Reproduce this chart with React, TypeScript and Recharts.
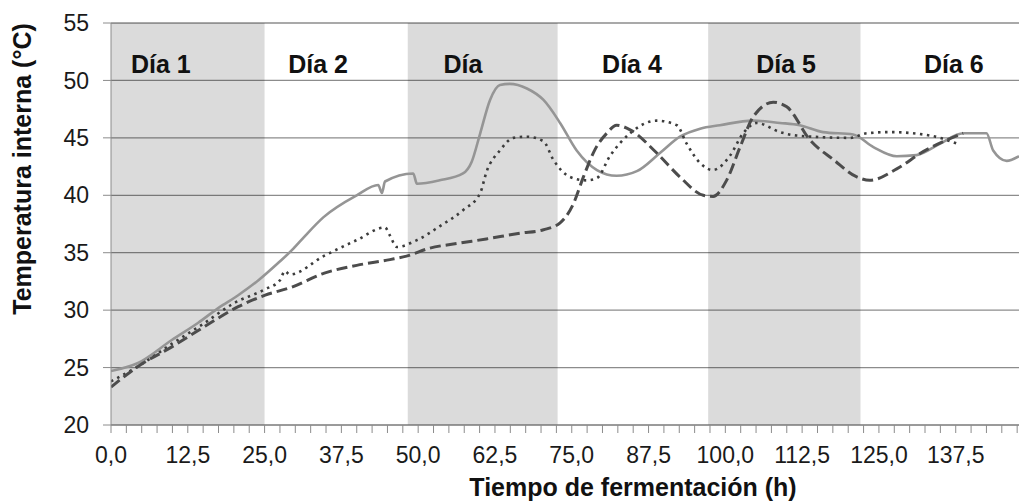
import React from "react";
import {
  LineChart,
  Line,
  XAxis,
  YAxis,
  CartesianGrid,
  ReferenceArea,
  ReferenceDot,
} from "recharts";

// horas de fermentación vs temperatura interna (°C)
const solidHours = [0, 4.4, 9.9, 14.2, 17.5, 20.7, 24, 27.2, 29.4, 31.3, 34.6, 40, 43.5, 44.1, 44.6, 49.2, 49.8, 53.5, 57.3, 58.7, 60.1, 61.7, 63.3, 64.9, 67.7, 70.4, 73.1, 75.8, 79.1, 82.3, 85.6, 89.4, 92.6, 95.9, 99.1, 104.5, 108.9, 112.1, 115.9, 120.8, 124.1, 127.9, 131.1, 135, 138.7, 142.5, 143.6, 145.8, 147.8];
const solidTemps = [24.7, 25.4, 27.4, 28.9, 30.2, 31.3, 32.6, 34.1, 35.2, 36.3, 38.1, 40.0, 40.9, 40.2, 41.2, 41.9, 41.0, 41.3, 41.9, 42.9, 45.4, 48.3, 49.6, 49.7, 49.3, 48.3, 46.3, 43.9, 42.2, 41.7, 42.1, 43.7, 45.1, 45.8, 46.1, 46.5, 46.3, 46.1, 45.5, 45.3, 44.2, 43.4, 43.5, 44.5, 45.4, 45.4, 43.9, 43.0, 43.4];

const dottedHours = [0, 5, 10, 15, 20, 25, 27.5, 28.3, 29.1, 34.6, 40, 44.6, 45.4, 46.5, 49.8, 53.5, 57.3, 60.1, 61.1, 63.3, 65.5, 67.7, 70.4, 72, 74.7, 77.4, 79.1, 81.2, 84.5, 88.8, 92.1, 93.7, 95.9, 98, 100.7, 102.9, 105.1, 108.9, 111.6, 120.3, 123, 126.8, 133.3, 138.2];
const dottedTemps = [23.8, 25.3, 27.1, 28.8, 30.6, 31.8, 32.6, 33.4, 33.1, 34.7, 36.1, 37.2, 36.5, 35.5, 36.1, 37.3, 38.7, 40.2, 42.0, 43.9, 45.0, 45.1, 44.7, 43.1, 41.6, 41.3, 41.5, 43.4, 45.4, 46.5, 46.1, 44.5, 42.8, 42.2, 43.4, 45.4, 46.3, 45.5, 45.2, 45.0, 45.4, 45.5, 45.2, 44.4];

const dashedHours = [0, 4.4, 9.9, 15.3, 20.7, 25.1, 29.4, 34.6, 40, 45.4, 48.1, 51.9, 56.3, 61.1, 66.6, 70.4, 73.1, 75.3, 76.9, 78.8, 80.7, 82.3, 84.5, 88.8, 92.6, 96.4, 98, 100.2, 102.4, 104.5, 107.8, 110, 113.8, 117.6, 121.4, 123.5, 127.9, 132.2, 136, 138.7];
const dashedTemps = [23.3, 25.1, 26.8, 28.6, 30.3, 31.3, 32.0, 33.2, 33.9, 34.4, 34.7, 35.4, 35.8, 36.2, 36.7, 37.0, 37.6, 39.3, 41.6, 44.0, 45.4, 46.1, 45.7, 43.7, 41.6, 40.0, 39.9, 41.3, 44.2, 46.8, 48.1, 47.7, 44.8, 43.1, 41.6, 41.3, 42.3, 43.8, 44.8, 45.4];

// bandas grises (días impares)
const bandStarts = [0, 48.3, 97.2];
const bandEnds = [25, 72.7, 122];

const dayNames = ["Día 1", "Día 2", "Día", "Día 4", "Día 5", "Día 6"];
const dayHours = [8.1, 33.7, 57.3, 84.8, 109.9, 137.2];
const dayLabelTemp = 51.4;

const yTicks = [20, 25, 30, 35, 40, 45, 50, 55];
const xTicks = Array.from({ length: 60 }, (_, i) => i * 2.5);

const toPoints = (hs: number[], ts: number[]) => hs.map((h, i) => ({ h, t: ts[i] }));

const FONT = '"Liberation Sans", Arial, sans-serif';

const fmtX = (v: number) => (v % 12.5 === 0 ? v.toFixed(1).replace(".", ",") : "");

export default function App() {
  return (
    <div style={{ width: 1019, height: 502, background: "#fff" }}>
      <style>{"body{margin:0}"}</style>
      <LineChart
        width={1019}
        height={502}
        margin={{ top: 23, right: 0, bottom: 0, left: 0 }}
        style={{ fontFamily: FONT }}
      >
        {bandStarts.map((s, i) => (
          <ReferenceArea
            key={"b" + i}
            x1={s}
            x2={bandEnds[i]}
            y1={20}
            y2={55}
            fill="#000"
            fillOpacity={0.14}
            stroke="none"
          />
        ))}
        <CartesianGrid vertical={false} stroke="#8c8c8c" strokeWidth={1.3} />
        <XAxis
          type="number"
          dataKey="h"
          domain={[0, 147.8]}
          ticks={xTicks}
          interval={0}
          tickFormatter={fmtX}
          allowDataOverflow
          height={77}
          stroke="#8c8c8c"
          tickSize={8}
          tickMargin={14}
          tick={{ fill: "#1a1a1a", fontSize: 23, fontFamily: FONT }}
          label={{
            content: () => (
              <text x={633} y={496} textAnchor="middle" fontSize={25} fontWeight="bold" fill="#111" fontFamily={FONT}>
                Tiempo de fermentación (h)
              </text>
            ),
          }}
        />
        <YAxis
          type="number"
          domain={[20, 55]}
          ticks={yTicks}
          interval={0}
          width={111}
          stroke="#8c8c8c"
          tickSize={8}
          tickMargin={14}
          tick={{ fill: "#1a1a1a", fontSize: 23, fontFamily: FONT }}
          label={{
            content: () => (
              <text
                x={22}
                y={169}
                transform="rotate(-90 22 169)"
                textAnchor="middle"
                dominantBaseline="central"
                fontSize={25}
                fontWeight="bold"
                fill="#111"
                fontFamily={FONT}
              >
                Temperatura interna (°C)
              </text>
            ),
          }}
        />
        {dayNames.map((d, i) => (
          <ReferenceDot
            key={"d" + i}
            x={dayHours[i]}
            y={dayLabelTemp}
            r={0}
            fill="none"
            stroke="none"
            label={{ value: d, position: "center", fontSize: 25, fontWeight: "bold", fill: "#111", fontFamily: FONT }}
          />
        ))}
        <Line
          data={toPoints(solidHours, solidTemps)}
          dataKey="t"
          type="monotone"
          stroke="#959595"
          strokeWidth={2.6}
          dot={false}
          isAnimationActive={false}
        />
        <Line
          data={toPoints(dottedHours, dottedTemps)}
          dataKey="t"
          type="monotone"
          stroke="#3c3c3c"
          strokeWidth={2.6}
          strokeDasharray="2.5 4.5"
          dot={false}
          isAnimationActive={false}
        />
        <Line
          data={toPoints(dashedHours, dashedTemps)}
          dataKey="t"
          type="monotone"
          stroke="#4c4c4c"
          strokeWidth={3}
          strokeDasharray="11 5"
          dot={false}
          isAnimationActive={false}
        />
      </LineChart>
    </div>
  );
}
